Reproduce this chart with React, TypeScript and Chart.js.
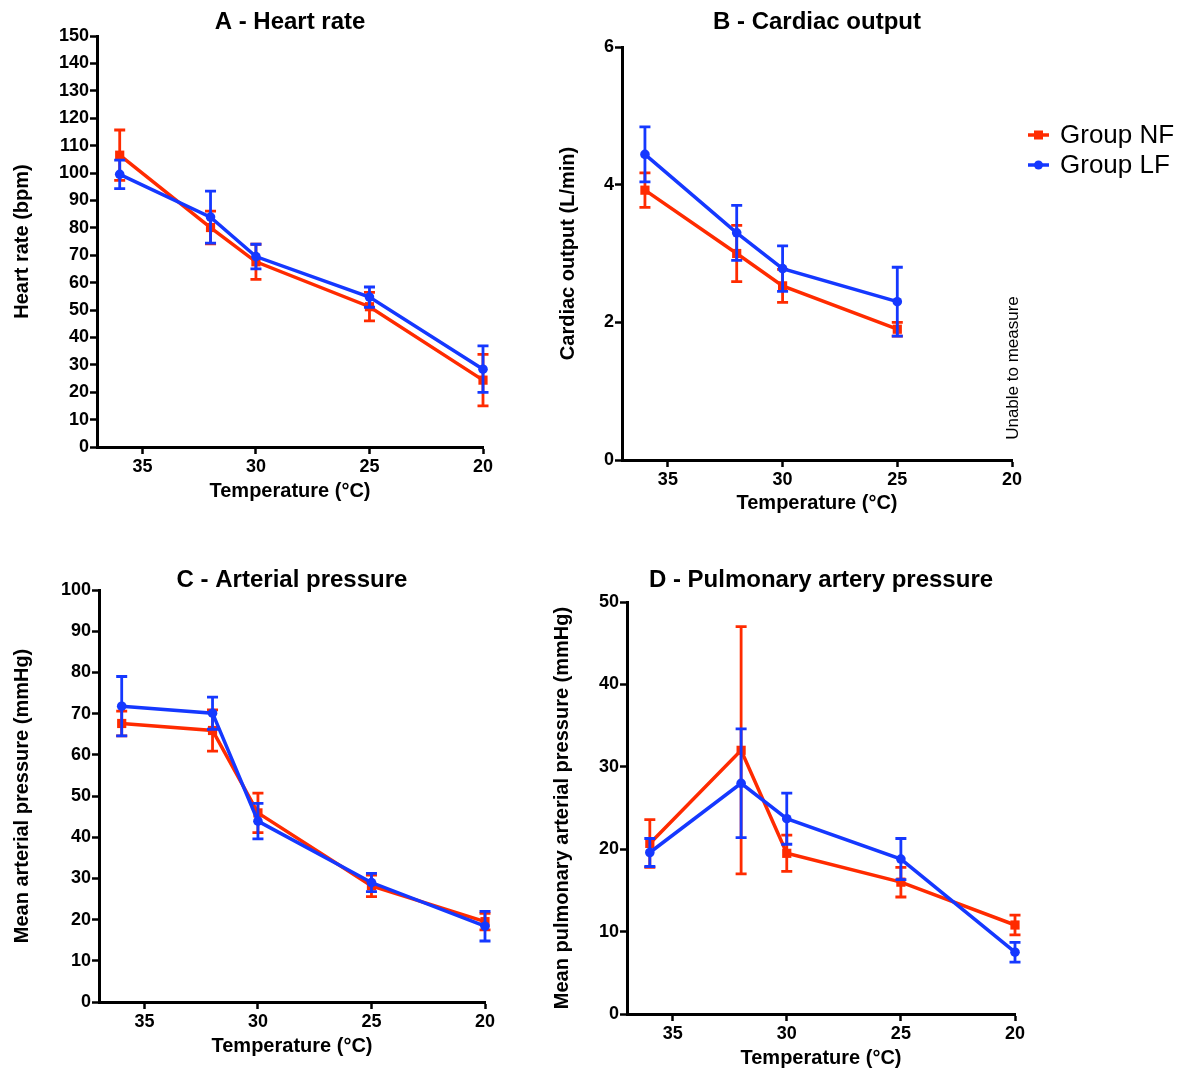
import React, { useEffect, useRef } from "react";
import { Chart, registerables } from "chart.js";

Chart.register(...registerables);

const FONT = "'Liberation Sans', Arial, Helvetica, sans-serif";
const RED = "#FF2B00";
const BLUE = "#1538FF";

// ---- data ----
const seriesNames = ["Group NF", "Group LF"];
const temperatures = [36, 32, 30, 25, 20];
const temperaturesCO = [36, 32, 30, 25];
const xTickValues = [35, 30, 25, 20];

const hrNF = [106.5, 80.1, 67.6, 51.2, 24.4];
const hrNFErr = [9.2, 6.0, 6.4, 5.2, 9.4];
const hrLF = [99.5, 83.9, 69.5, 54.7, 28.4];
const hrLFErr = [5.2, 9.5, 4.5, 3.7, 8.5];

const coNF = [3.92, 3.0, 2.53, 1.9];
const coNFErr = [0.25, 0.41, 0.24, 0.1];
const coLF = [4.44, 3.3, 2.78, 2.3];
const coLFErr = [0.4, 0.4, 0.33, 0.5];

const mapNF = [67.6, 65.9, 45.9, 28.2, 19.5];
const mapNFErr = [3.0, 5.0, 4.8, 2.6, 2.0];
const mapLF = [71.8, 70.1, 43.9, 29.0, 18.4];
const mapLFErr = [7.2, 3.9, 4.3, 2.2, 3.6];

const papNF = [20.7, 32.0, 19.5, 16.0, 10.8];
const papNFErr = [2.9, 15.0, 2.2, 1.8, 1.2];
const papLF = [19.6, 28.0, 23.7, 18.8, 7.5];
const papLFErr = [1.7, 6.6, 3.1, 2.5, 1.2];

const panelTitles = [
  "A - Heart rate",
  "B - Cardiac output",
  "C - Arterial pressure",
  "D - Pulmonary artery pressure",
];
const yAxisTitles = [
  "Heart rate (bpm)",
  "Cardiac output (L/min)",
  "Mean arterial pressure (mmHg)",
  "Mean pulmonary arterial pressure (mmHg)",
];
const xAxisTitle = "Temperature (°C)";
const noDataNote = "Unable to measure";

// ---- plugins ----
const errorBarPlugin = {
  id: "errorBars",
  beforeDatasetDraw(chart: any, args: any) {
    const ds: any = chart.data.datasets[args.index];
    const errs: number[] = ds.errors;
    if (!errs) return;
    const yScale = chart.scales.y;
    const ctx = chart.ctx;
    ctx.save();
    ctx.strokeStyle = ds.borderColor;
    ctx.lineWidth = 2.8;
    const cap = 5.5;
    args.meta.data.forEach((pt: any, i: number) => {
      const raw = ds.data[i];
      const x = pt.x;
      const yTop = yScale.getPixelForValue(raw.y + errs[i]);
      const yBot = yScale.getPixelForValue(raw.y - errs[i]);
      ctx.beginPath();
      ctx.moveTo(x, yTop);
      ctx.lineTo(x, yBot);
      ctx.moveTo(x - cap, yTop);
      ctx.lineTo(x + cap, yTop);
      ctx.moveTo(x - cap, yBot);
      ctx.lineTo(x + cap, yBot);
      ctx.stroke();
    });
    ctx.restore();
  },
};

const panelTitlePlugin = {
  id: "panelTitle",
  afterDraw(chart: any, _args: any, opts: any) {
    if (!opts || !opts.text) return;
    const { ctx, chartArea } = chart;
    ctx.save();
    ctx.font = `bold 24px ${FONT}`;
    ctx.fillStyle = "#000";
    ctx.textAlign = "center";
    ctx.textBaseline = "middle";
    ctx.fillText(opts.text, (chartArea.left + chartArea.right) / 2, opts.y);
    ctx.restore();
  },
};

const sideNotesPlugin = {
  id: "sideNotes",
  afterDraw(chart: any, _args: any, opts: any) {
    if (!opts || !opts.enabled) return;
    const ctx = chart.ctx;
    ctx.save();
    chart.data.datasets.forEach((ds: any, i: number) => {
      const y = opts.legendY + i * opts.legendGap;
      const x0 = opts.legendX;
      ctx.strokeStyle = ds.borderColor;
      ctx.fillStyle = ds.borderColor;
      ctx.lineWidth = 3.5;
      ctx.beginPath();
      ctx.moveTo(x0, y);
      ctx.lineTo(x0 + 21, y);
      ctx.stroke();
      const cx = x0 + 10.5;
      if (ds.pointStyle === "rect") {
        ctx.fillRect(cx - 4.5, y - 4.5, 9, 9);
      } else {
        ctx.beginPath();
        ctx.arc(cx, y, 4.5, 0, Math.PI * 2);
        ctx.fill();
      }
      ctx.fillStyle = "#000";
      ctx.font = `26px ${FONT}`;
      ctx.textAlign = "left";
      ctx.textBaseline = "middle";
      ctx.fillText(ds.label, x0 + 32, y + 1);
    });
    ctx.translate(opts.noteX, opts.noteY);
    ctx.rotate(-Math.PI / 2);
    ctx.font = `17px ${FONT}`;
    ctx.fillStyle = "#000";
    ctx.textAlign = "center";
    ctx.textBaseline = "middle";
    ctx.fillText(opts.note, 0, 0);
    ctx.restore();
  },
};

type PanelDef = {
  idx: number;
  temps: number[];
  nf: number[];
  nfErr: number[];
  lf: number[];
  lfErr: number[];
  yMax: number;
  yStep: number;
  left: number;
  top: number;
  width: number;
  height: number;
  pad: { left: number; top: number; right: number; bottom: number };
  yWidth: number;
  xHeight: number;
  titleY: number;
  yTitlePad: number;
  notes?: boolean;
};

const panels: PanelDef[] = [
  {
    idx: 0, temps: temperatures, nf: hrNF, nfErr: hrNFErr, lf: hrLF, lfErr: hrLFErr,
    yMax: 150, yStep: 10,
    left: 0, top: 0, width: 530, height: 535,
    pad: { left: 0, top: 36, right: 47, bottom: 32 }, yWidth: 97, xHeight: 56,
    titleY: 22, yTitlePad: 10,
  },
  {
    idx: 1, temps: temperaturesCO, nf: coNF, nfErr: coNFErr, lf: coLF, lfErr: coLFErr,
    yMax: 6, yStep: 2,
    left: 530, top: 0, width: 659, height: 535,
    pad: { left: 0, top: 47, right: 177, bottom: 20 }, yWidth: 92, xHeight: 55,
    titleY: 22, yTitlePad: 26, notes: true,
  },
  {
    idx: 2, temps: temperatures, nf: mapNF, nfErr: mapNFErr, lf: mapLF, lfErr: mapLFErr,
    yMax: 100, yStep: 10,
    left: 0, top: 535, width: 530, height: 535,
    pad: { left: 0, top: 55, right: 45, bottom: 12 }, yWidth: 99, xHeight: 56,
    titleY: 45, yTitlePad: 10,
  },
  {
    idx: 3, temps: temperatures, nf: papNF, nfErr: papNFErr, lf: papLF, lfErr: papLFErr,
    yMax: 50, yStep: 10,
    left: 530, top: 535, width: 659, height: 535,
    pad: { left: 0, top: 67, right: 174, bottom: 0 }, yWidth: 97, xHeight: 56,
    titleY: 45, yTitlePad: 20,
  },
];

function buildConfig(p: PanelDef): any {
  const nfData = p.temps.map((t, i) => ({ x: t, y: p.nf[i] }));
  const lfData = p.temps.map((t, i) => ({ x: t, y: p.lf[i] }));
  const tickFont = { family: FONT, size: 18, weight: "bold" as const };
  const titleFont = { family: FONT, size: 20, weight: "bold" as const };
  const grid = {
    display: true,
    drawOnChartArea: false,
    drawTicks: true,
    tickLength: 7,
    tickWidth: 2.5,
    tickColor: "#000",
    color: "#000",
  };
  const border = { display: true, color: "#000", width: 3 };
  return {
    type: "line",
    data: {
      datasets: [
        {
          label: seriesNames[0],
          data: nfData,
          errors: p.nfErr,
          borderColor: RED,
          backgroundColor: RED,
          pointBackgroundColor: RED,
          pointBorderColor: RED,
          borderWidth: 3.5,
          pointStyle: "rect",
          pointRadius: 6.5,
          pointBorderWidth: 0,
          tension: 0,
          clip: false,
          order: 2,
        },
        {
          label: seriesNames[1],
          data: lfData,
          errors: p.lfErr,
          borderColor: BLUE,
          backgroundColor: BLUE,
          pointBackgroundColor: BLUE,
          pointBorderColor: BLUE,
          borderWidth: 3.5,
          pointStyle: "circle",
          pointRadius: 4.8,
          pointBorderWidth: 0,
          tension: 0,
          clip: false,
          order: 1,
        },
      ],
    },
    options: {
      responsive: false,
      animation: false,
      devicePixelRatio: 1,
      color: "#000",
      layout: { padding: p.pad },
      plugins: {
        legend: { display: false },
        tooltip: { enabled: false },
        panelTitle: { text: panelTitles[p.idx], y: p.titleY },
        sideNotes: p.notes
          ? { enabled: true, legendX: 498, legendY: 135, legendGap: 30, noteX: 483, noteY: 368, note: noDataNote }
          : { enabled: false },
      },
      scales: {
        x: {
          type: "linear",
          min: 20,
          max: 37,
          reverse: true,
          afterBuildTicks: (scale: any) => {
            scale.ticks = xTickValues.map((v) => ({ value: v }));
          },
          afterFit: (scale: any) => {
            scale.height = p.xHeight;
          },
          grid,
          border,
          ticks: { color: "#000", font: tickFont, padding: 2, maxRotation: 0, autoSkip: false },
          title: { display: true, text: xAxisTitle, color: "#000", font: titleFont, padding: { top: 0, bottom: 0 } },
        },
        y: {
          type: "linear",
          min: 0,
          max: p.yMax,
          afterFit: (scale: any) => {
            scale.width = p.yWidth;
          },
          grid,
          border,
          ticks: { stepSize: p.yStep, color: "#000", font: tickFont, padding: 1, autoSkip: false },
          title: {
            display: true,
            text: yAxisTitles[p.idx],
            color: "#000",
            font: titleFont,
            padding: { top: p.yTitlePad, bottom: 0 },
          },
        },
      },
    },
    plugins: [errorBarPlugin, panelTitlePlugin, sideNotesPlugin],
  };
}

function ChartPanel({ def }: { def: PanelDef }) {
  const ref = useRef<HTMLCanvasElement | null>(null);
  useEffect(() => {
    if (!ref.current) return;
    const chart = new Chart(ref.current, buildConfig(def));
    return () => chart.destroy();
  }, [def]);
  return (
    <canvas
      ref={ref}
      width={def.width}
      height={def.height}
      style={{
        position: "absolute",
        left: def.left,
        top: def.top,
        width: def.width,
        height: def.height,
      }}
    />
  );
}

export default function App() {
  return (
    <div
      style={{
        position: "absolute",
        left: 0,
        top: 0,
        width: 1189,
        height: 1070,
        background: "#fff",
        overflow: "hidden",
      }}
    >
      {panels.map((p) => (
        <ChartPanel key={p.idx} def={p} />
      ))}
    </div>
  );
}
